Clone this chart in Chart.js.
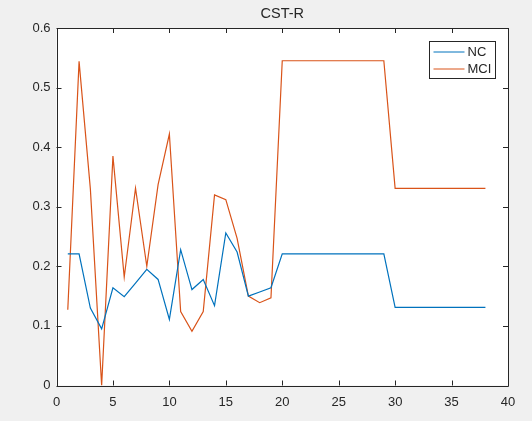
<!DOCTYPE html>
<html>
<head>
<meta charset="utf-8">
<script src="https://cdn.jsdelivr.net/npm/chart.js@4"></script>
<style>
html,body{margin:0;padding:0;background:#f0f0f0;}
#wrap{width:532px;height:421px;}
</style>
</head>
<body>
<div id="wrap"><canvas id="c" width="532" height="421"></canvas></div>
<script>
const chartTitle = "CST-R";
const xValues = [1,2,3,4,5,6,7,8,9,10,11,12,13,14,15,16,17,18,19,20,21,22,23,24,25,26,27,28,29,30,31,32,33,34,35,36,37,38];
const ncValues = [0.221,0.221,0.130,0.095,0.164,0.149,0.172,0.195,0.178,0.111,0.228,0.161,0.178,0.134,0.256,0.224,0.150,0.157,0.164,
  0.221,0.221,0.221,0.221,0.221,0.221,0.221,0.221,0.221,0.221,
  0.131,0.131,0.131,0.131,0.131,0.131,0.131,0.131,0.131];
const mciValues = [0.127,0.544,0.330,0.000,0.385,0.182,0.331,0.200,0.337,0.422,0.124,0.091,0.124,0.320,0.312,0.247,0.150,0.139,0.147,
  0.545,0.545,0.545,0.545,0.545,0.545,0.545,0.545,0.545,0.545,
  0.331,0.331,0.331,0.331,0.331,0.331,0.331,0.331,0.331];
const seriesNames = ["NC","MCI"];
const xTicks = [0,5,10,15,20,25,30,35,40];
const yTicks = [0,0.1,0.2,0.3,0.4,0.5,0.6];

const FONT = "'Liberation Sans', Arial, sans-serif";
const AX = "#262626";

const matlabPlugin = {
  id: 'matlab',
  beforeDraw(chart){
    const {ctx, chartArea:a} = chart;
    ctx.save();
    ctx.fillStyle = '#f0f0f0';
    ctx.fillRect(0,0,chart.width,chart.height);
    ctx.fillStyle = '#ffffff';
    ctx.fillRect(a.left,a.top,a.right-a.left,a.bottom-a.top);
    ctx.restore();
  },
  afterDraw(chart){
    const {ctx, chartArea:a, scales} = chart;
    ctx.save();
    // title centred over the axes
    ctx.fillStyle = AX;
    ctx.font = "14.5px " + FONT;
    ctx.textAlign = 'center';
    ctx.textBaseline = 'middle';
    ctx.fillText(chartTitle, (a.left + a.right)/2, 14);
    ctx.strokeStyle = AX;
    ctx.lineWidth = 1;
    ctx.beginPath();
    ctx.rect(Math.round(a.left)+0.5, Math.round(a.top)+0.5, Math.round(a.right-a.left)-1, Math.round(a.bottom-a.top));
    ctx.stroke();
    const tl = 5;
    ctx.beginPath();
    xTicks.forEach(v=>{
      const px = Math.round(scales.x.getPixelForValue(v))+0.5;
      ctx.moveTo(px,a.bottom); ctx.lineTo(px,a.bottom-tl);
      ctx.moveTo(px,a.top); ctx.lineTo(px,a.top+tl);
    });
    yTicks.forEach(v=>{
      const py = Math.round(scales.y.getPixelForValue(v))+0.5;
      ctx.moveTo(a.left,py); ctx.lineTo(a.left+tl,py);
      ctx.moveTo(a.right,py); ctx.lineTo(a.right-tl,py);
    });
    ctx.stroke();
    // legend
    const lx = 429.5, ly = 41.5, lw = 66, lh = 37;
    ctx.fillStyle = '#ffffff';
    ctx.fillRect(lx,ly,lw,lh);
    ctx.strokeStyle = AX;
    ctx.strokeRect(lx,ly,lw,lh);
    chart.data.datasets.forEach((ds,i)=>{
      const y = ly + 10.5 + i*17;
      ctx.strokeStyle = ds.borderColor;
      ctx.lineWidth = 1;
      ctx.beginPath();
      ctx.moveTo(lx+4,y); ctx.lineTo(lx+35,y);
      ctx.stroke();
      ctx.fillStyle = AX;
      ctx.font = "13px " + FONT;
      ctx.textBaseline = 'middle';
      ctx.textAlign = 'left';
      ctx.fillText(ds.label, lx+38, y+0.5);
    });
    ctx.restore();
  }
};

new Chart(document.getElementById('c'), {
  type: 'line',
  data: {
    datasets: [
      {label: seriesNames[0], data: xValues.map((x,i)=>({x, y: ncValues[i]})), borderColor: '#0072BD', borderWidth: 1.2, pointRadius: 0, fill: false, tension: 0},
      {label: seriesNames[1], data: xValues.map((x,i)=>({x, y: mciValues[i]})), borderColor: '#D95319', borderWidth: 1.2, pointRadius: 0, fill: false, tension: 0}
    ]
  },
  options: {
    responsive: false,
    animation: false,
    layout: {padding: {left: 0, right: 24, top: 28, bottom: 0}},
    plugins: {
      legend: {display: false},
      tooltip: {enabled: false},
      title: {display: false}
    },
    scales: {
      x: {
        type: 'linear', min: 0, max: 40,
        afterBuildTicks: s => { s.ticks = xTicks.map(v=>({value:v})); },
        afterFit: s => { s.height = 35.5; },
        grid: {display: false, drawTicks: false},
        border: {display: false},
        ticks: {color: AX, font: {family: FONT, size: 13}, padding: 9, maxRotation: 0, callback: v => String(v)}
      },
      y: {
        type: 'linear', min: 0, max: 0.6,
        afterBuildTicks: s => { s.ticks = yTicks.map(v=>({value:v})); },
        afterFit: s => { s.width = 56.5; },
        grid: {display: false, drawTicks: false},
        border: {display: false},
        ticks: {color: AX, font: {family: FONT, size: 13}, padding: 6, callback: v => String(+Number(v).toFixed(1))}
      }
    }
  },
  plugins: [matlabPlugin]
});
</script>
</body>
</html>
